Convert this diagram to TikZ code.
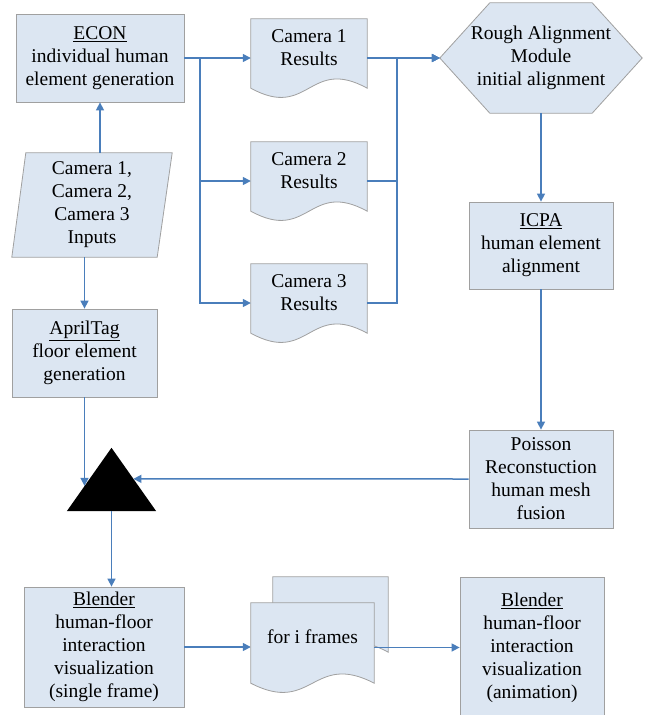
\documentclass[tikz,border=0pt]{standalone}
\usepackage{fontspec}
\setmainfont{Liberation Serif}
\newfontfamily\diagfont{Liberation Serif}
\usetikzlibrary{arrows.meta,calc,backgrounds}
\definecolor{boxfill}{HTML}{DCE6F2}
\definecolor{boxline}{HTML}{A0A0A0}
\definecolor{arrowblue}{HTML}{4A7EBB}
\newcommand\docoutline[1]{%
  \path[outline] (#1.north west) -- (#1.north east) -- ([yshift=9pt]#1.south east)
    .. controls ([yshift=41pt]#1.south) and ([yshift=-23pt]#1.south) .. ([yshift=9pt]#1.south west) -- cycle;}
\begin{document}
\begin{tikzpicture}[x=1pt,y=-1pt,
  txtfont/.style={font=\diagfont\fontsize{19.5}{23}\selectfont},
  box/.style={rectangle, draw=boxline, fill=boxfill, line width=0.8pt, align=center, inner sep=0pt, txtfont},
  shapebox/.style={rectangle, inner sep=0pt, align=center, txtfont},
  txt/.style={inner sep=0pt, align=center, txtfont},
  outline/.style={draw=boxline, fill=boxfill, line width=0.8pt},
  arr/.style={draw=arrowblue, line width=1.5pt, -{Triangle[length=8pt,width=8pt]}}]
\useasboundingbox (0,0) rectangle (646,715);
\clip (0,0) rectangle (646,715);

% boxes
\node[box, minimum width=168pt, minimum height=88pt] (econ) at (100,58) {\underline{ECON}\\individual human\\element generation};
\node[shapebox, minimum width=160pt, minimum height=104pt] (para) at (92,205) {Camera 1,\\Camera 2,\\Camera 3\\Inputs};
\node[box, minimum width=145pt, minimum height=88pt] (april) at (84.5,353) {\underline{AprilTag}\\floor element\\generation};

\node[shapebox, minimum width=116pt, minimum height=78pt] (cam1) at (309,58) {};
\node[shapebox, minimum width=116pt, minimum height=78pt] (cam2) at (309,181) {};
\node[shapebox, minimum width=116pt, minimum height=78pt] (cam3) at (309,303) {};

\node[shapebox, minimum width=202pt, minimum height=110pt] (hex) at (541,58) {Rough Alignment\\Module\\initial alignment};
\node[box, minimum width=144pt, minimum height=87pt] (icpa) at (541,245.5) {\underline{ICPA}\\human element\\alignment};
\node[box, minimum width=144pt, minimum height=98pt] (poisson) at (541,479) {Poisson\\Reconstuction\\human mesh\\fusion};

\node[shapebox, minimum width=89pt, minimum height=63pt] (tri) at (111.5,479.5) {};
\node[box, minimum width=160pt, minimum height=120pt] (blend1) at (104,647) {\underline{Blender}\\human-floor\\interaction\\visualization\\(single frame)};

\node[shapebox, minimum width=115pt, minimum height=84pt] (framesback) at (330.5,619) {};
\node[shapebox, minimum width=123pt, minimum height=89pt] (frames) at (312.5,647.5) {};
\node[box, minimum width=144pt, minimum height=141pt] (blend2) at (532,647.5) {\underline{Blender}\\human-floor\\interaction\\visualization\\(animation)};

\begin{scope}[on background layer]
  \path[outline] ([xshift=14pt]para.north west) -- (para.north east) -- ([xshift=-15pt]para.south east) -- (para.south west) -- cycle;
  \docoutline{cam1}
  \docoutline{cam2}
  \docoutline{cam3}
  \path[outline] ([xshift=50pt]hex.north west) -- ([xshift=-50pt]hex.north east) -- (hex.east) -- ([xshift=-50pt]hex.south east) -- ([xshift=50pt]hex.south west) -- (hex.west) -- cycle;
\end{scope}

% document texts
\node[txt] at (309,48) {Camera 1\\Results};
\node[txt] at (309,171) {Camera 2\\Results};
\node[txt] at (309,293) {Camera 3\\Results};

% triangle
\fill[black] (tri.south west) -- (tri.north) -- (tri.south east) -- cycle;
\coordinate (tl) at ($(tri.north)!0.6!(tri.south west)$);
\coordinate (tr) at ($(tri.north)!0.49!(tri.south east)$);

% connectors
\coordinate (bx) at (200,0);
\coordinate (mx) at (397,0);
\draw[arr] (econ.south |- para.north) -- (econ.south);
\draw[arr] (econ.east) -- (cam1.west);
\draw[arr] (bx |- econ.east) |- (cam2.west);
\draw[arr] (bx |- econ.east) |- (cam3.west);
\draw[arr] (cam1.east) -- (hex.west);
\draw[arr] (cam2.east) -| (mx |- hex.west) -- (hex.west);
\draw[arr] (cam3.east) -| (mx |- hex.west) -- (hex.west);
\draw[arr] (hex.south) -- (icpa.north);
\draw[arr] (icpa.south) -- (poisson.north);
\draw[arr] (poisson.west) -- (tr);
\draw[arr] (april.north |- para.south) -- (april.north);
\draw[arr] (april.south) -- (april.south |- tl);
\draw[arr] (tri.south) -- (tri.south |- blend1.north);
\draw[arr] (blend1.east) -- (blend1.east -| frames.west);

% frames documents
\docoutline{framesback}
\docoutline{frames}
\node[txt] at (312.5,637) {for i frames};
\draw[arr] (frames.east) -- (blend2.west);
\end{tikzpicture}
\end{document}
